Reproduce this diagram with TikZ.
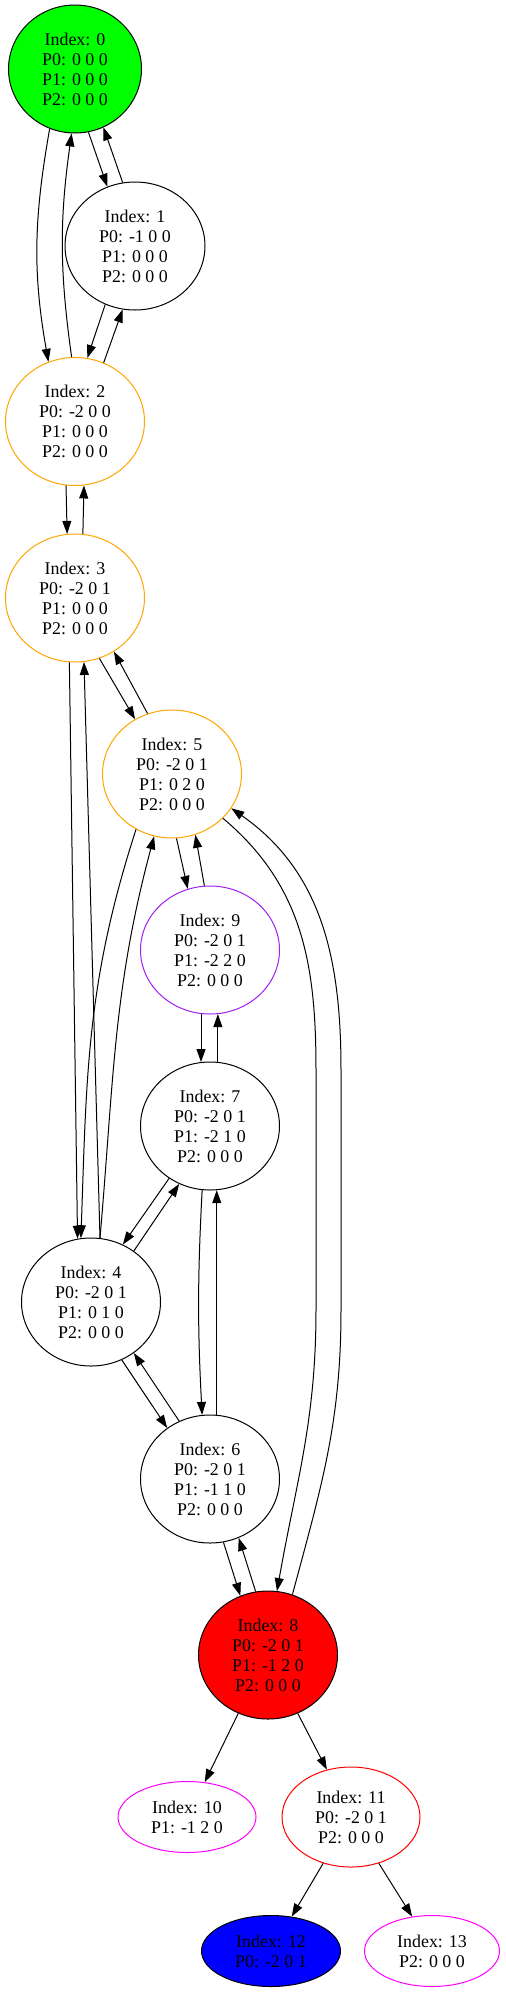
\documentclass[tikz,border=0pt]{standalone}
\usepackage{fontspec}
\setmainfont{Liberation Serif}
\usetikzlibrary{shapes.geometric, arrows.meta, positioning}
\definecolor{gvgreen}{HTML}{00FF00}
\definecolor{gvorange}{HTML}{FFA500}
\definecolor{gvpurple}{HTML}{A020F0}
\definecolor{gvmagenta}{HTML}{FF00FF}
\definecolor{gvred}{HTML}{FF0000}
\definecolor{gvblue}{HTML}{0000FF}
\tikzstyle{arrow} = [line width=1pt,-{Triangle[length=13pt,width=9pt]}]
\tikzset{
	state/.style={ellipse, minimum width=139pt, minimum height=128pt, inner sep=0pt, draw=black, line width=1pt, font=\fontsize{17.9}{20}\selectfont, text centered},
	leaf/.style={state, minimum height=71pt}
}

\begin{document}
\begin{tikzpicture}[x=1pt, y=1pt]
	\useasboundingbox (0,0) rectangle (506,-1992);

	% Nodes (using \parbox to keep the lines centred)
	\node (n0) [state, fill=gvgreen, minimum width=133pt] at (75,-69) {\parbox{80pt}{\centering Index: 0 \\ P0: 0 0 0 \\ P1: 0 0 0 \\ P2: 0 0 0}};
	\node (n1) [state, minimum width=140pt] at (135,-246) {\parbox{80pt}{\centering Index: 1 \\ P0: -1 0 0 \\ P1: 0 0 0 \\ P2: 0 0 0}};
	\node (n2) [state, draw=gvorange] at (75,-421.5) {\parbox{80pt}{\centering Index: 2 \\ P0: -2 0 0 \\ P1: 0 0 0 \\ P2: 0 0 0}};
	\node (n3) [state, draw=gvorange] at (75,-598) {\parbox{80pt}{\centering Index: 3 \\ P0: -2 0 1 \\ P1: 0 0 0 \\ P2: 0 0 0}};
	\node (n5) [state, draw=gvorange] at (172,-774) {\parbox{80pt}{\centering Index: 5 \\ P0: -2 0 1 \\ P1: 0 2 0 \\ P2: 0 0 0}};
	\node (n9) [state, draw=gvpurple] at (210,-950) {\parbox{80pt}{\centering Index: 9 \\ P0: -2 0 1 \\ P1: -2 2 0 \\ P2: 0 0 0}};
	\node (n7) [state] at (210,-1126) {\parbox{80pt}{\centering Index: 7 \\ P0: -2 0 1 \\ P1: -2 1 0 \\ P2: 0 0 0}};
	\node (n4) [state] at (91,-1302) {\parbox{80pt}{\centering Index: 4 \\ P0: -2 0 1 \\ P1: 0 1 0 \\ P2: 0 0 0}};
	\node (n6) [state] at (210,-1479) {\parbox{80pt}{\centering Index: 6 \\ P0: -2 0 1 \\ P1: -1 1 0 \\ P2: 0 0 0}};
	\node (n8) [state, fill=gvred] at (268,-1655) {\parbox{80pt}{\centering Index: 8 \\ P0: -2 0 1 \\ P1: -1 2 0 \\ P2: 0 0 0}};
	\node (n10) [leaf, draw=gvmagenta, minimum width=138pt] at (187,-1817) {\parbox{80pt}{\centering Index: 10 \\ P1: -1 2 0}};
	\node (n11) [state, draw=gvred, minimum width=138pt, minimum height=100pt] at (351,-1817) {\parbox{80pt}{\centering Index: 11 \\ P0: -2 0 1 \\ P2: 0 0 0}};
	\node (n12) [leaf, fill=gvblue] at (271,-1951) {\parbox{80pt}{\centering Index: 12 \\ P0: -2 0 1}};
	\node (n13) [leaf, draw=gvmagenta, minimum width=135pt] at (432,-1951) {\parbox{80pt}{\centering Index: 13 \\ P2: 0 0 0}};

	% Bends of the two long edges between 5 and 8
	\coordinate (w58a) at (316,-1070);
	\coordinate (w58b) at (316,-1310);
	\coordinate (w85a) at (341,-1070);
	\coordinate (w85b) at (341,-1310);

	% Arrows between the states
	\draw [arrow] (n0.-78) -- (n1.115);
	\draw [arrow] (n1.101) -- (n0.-64);
	\draw [arrow] (n0.-113) to[out=-100, in=100] (n2.114);
	\draw [arrow] (n2.93) to[out=98, in=-98] (n0.-93);
	\draw [arrow] (n1.-117) -- (n2.79);
	\draw [arrow] (n2.64) -- (n1.-101);
	\draw [arrow] (n2.-98) -- (n3.97);
	\draw [arrow] (n3.83) -- (n2.-82);
	\draw [arrow] (n3.-68) -- (n5.124);
	\draw [arrow] (n5.112) -- (n3.-54);
	\draw [arrow] (n3.-95) -- (n4.102);
	\draw [arrow] (n4.82) -- (n3.-82);
	\draw [arrow] (n5.-123) to[out=-108, in=88] (n4.99);
	\draw [arrow] (n4.82) to[out=85, in=-105] (n5.-106);
	\draw [arrow] (n5.-86) -- (n9.110);
	\draw [arrow] (n9.95) -- (n5.-69);
	\draw [arrow] (n5.-41) to[out=-40, in=90] (w58a) -- (w58b) to[out=-90, in=80] (n8.82);
	\draw [arrow] (n8.68) to[out=75, in=-90] (w85b) -- (w85a) to[out=90, in=-35] (n5.-30);
	\draw [arrow] (n9.-98) -- (n7.98);
	\draw [arrow] (n7.83) -- (n9.-83);
	\draw [arrow] (n7.-128) -- (n4.61);
	\draw [arrow] (n4.50) -- (n7.-118);
	\draw [arrow] (n7.-97) to[out=-93, in=93] (n6.97);
	\draw [arrow] (n6.84) -- (n7.-84);
	\draw [arrow] (n4.-62) -- (n6.130);
	\draw [arrow] (n6.118) -- (n4.-50);
	\draw [arrow] (n6.-78) -- (n8.115);
	\draw [arrow] (n8.101) -- (n6.-64);
	\draw [arrow] (n8.-117) -- (n10.63);
	\draw [arrow] (n8.-63) -- (n11.117);
	\draw [arrow] (n11.-121) -- (n12.59);
	\draw [arrow] (n11.-59) -- (n13.120);

\end{tikzpicture}
\end{document}
